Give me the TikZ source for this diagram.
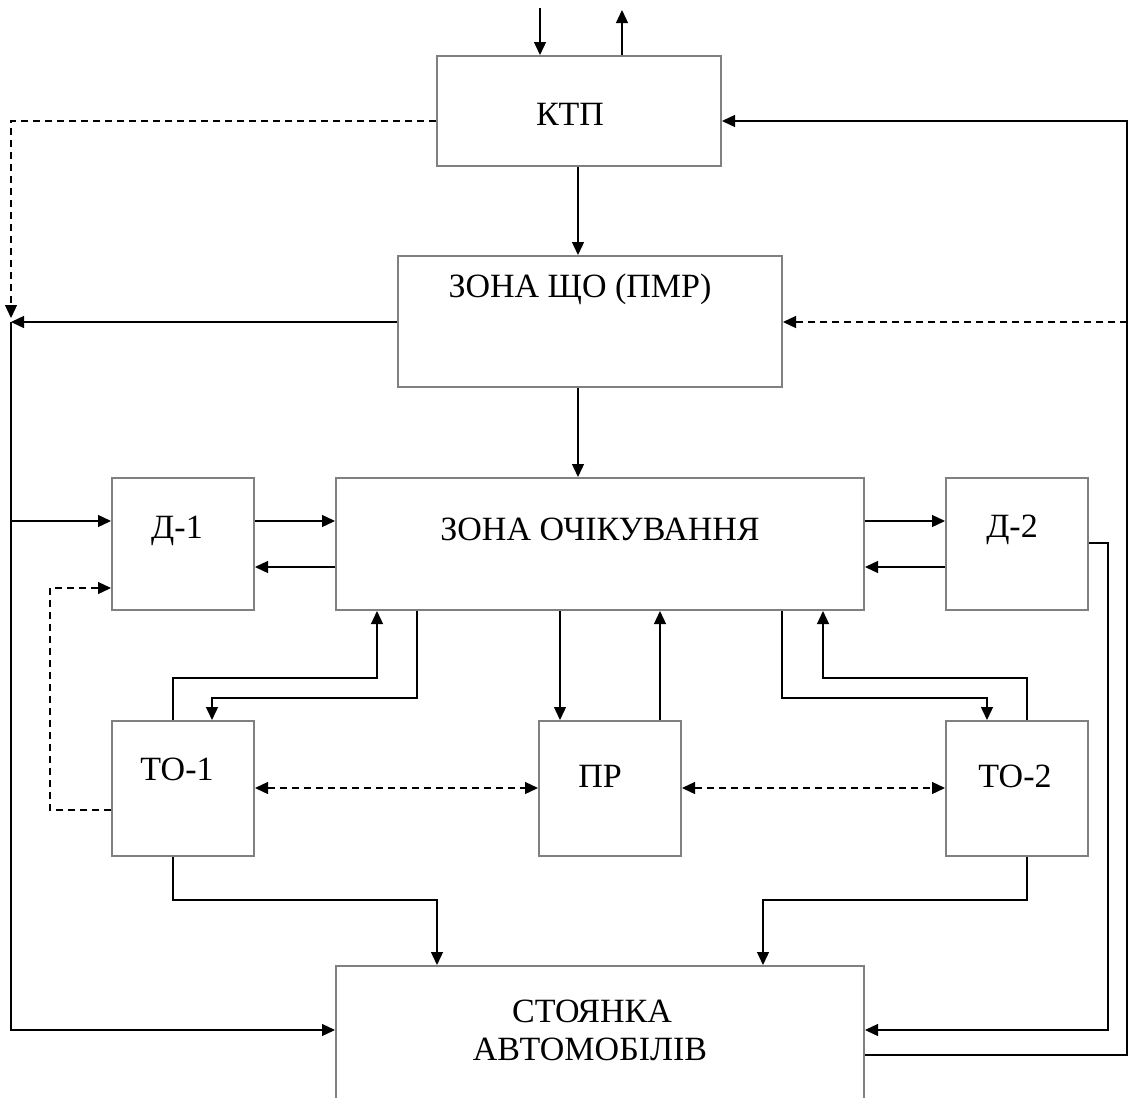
\documentclass[tikz,border=0pt]{standalone}
\usepackage{fontspec}
\setmainfont{Liberation Serif}
\usetikzlibrary{arrows.meta}
\definecolor{boxgray}{RGB}{128,128,128}
\tikzset{
  box/.style={draw=boxgray, line width=2pt, inner sep=0pt, anchor=north west},
  lbl/.style={font=\fontsize{34}{40}\selectfont, anchor=base, inner sep=0pt},
  con/.style={line width=1.3pt, black},
  arr/.style={con, -{Triangle[length=13pt,width=12pt]}},
  darr/.style={con, {Triangle[length=13pt,width=12pt]}-{Triangle[length=13pt,width=12pt]}},
  dsh/.style={dash pattern=on 7pt off 5pt},
}
\begin{document}
\begin{tikzpicture}[x=1pt,y=-1pt]
\useasboundingbox (0,0) rectangle (1128,1098);
% boxes
\node[box, minimum width=284pt, minimum height=110pt] (ktp) at (436,55) {};
\node[box, minimum width=384pt, minimum height=131pt] (shcho) at (397,255) {};
\node[box, minimum width=142pt, minimum height=132pt] (d1) at (111,477) {};
\node[box, minimum width=528pt, minimum height=132pt] (och) at (335,477) {};
\node[box, minimum width=142pt, minimum height=132pt] (d2) at (945,477) {};
\node[box, minimum width=142pt, minimum height=135pt] (to1) at (111,720) {};
\node[box, minimum width=142pt, minimum height=135pt] (pr) at (538,720) {};
\node[box, minimum width=142pt, minimum height=135pt] (to2) at (945,720) {};
\node[box, minimum width=528pt, minimum height=140pt] (st) at (335,965) {};
% labels
\node[lbl] (ktpT) at (570,125) {КТП};
\node[lbl] (shchoT) at (580,297) {ЗОНА ЩО (ПМР)};
\node[lbl] (ochT) at (600,540) {ЗОНА ОЧІКУВАННЯ};
\node[lbl] (d1T) at (177,538) {Д-1};
\node[lbl] (d2T) at (1012,537) {Д-2};
\node[lbl] (to1T) at (177,780) {ТО-1};
\node[lbl] (prT) at (600,787) {ПР};
\node[lbl] (to2T) at (1015,787) {ТО-2};
\node[lbl] (stT1) at (592,1022) {СТОЯНКА};
\node[lbl] (stT2) at (590,1060) {АВТОМОБІЛІВ};
% free ends
\coordinate (in1) at (540,8);
\coordinate (out1) at (622,10);
\coordinate (rail) at (11,0);
\coordinate (rr) at (1127,0);
% top
\draw[arr] (in1) -- (in1 |- ktp.north);
\draw[arr] (out1 |- ktp.north) -- (out1);
\draw[arr, dsh] (ktp.west |- 0,121) -- (rail |- 0,121) -- (rail |- 0,318);
\draw[arr] (st.east |- 0,1055) -- (rr |- 0,1055) -- (rr |- 0,121) -- (ktp.east |- 0,121);
\draw[arr, dsh] (rr |- 0,322) -- (shcho.east |- 0,322);
\draw[arr] (578,0 |- ktp.south) -- (578,0 |- shcho.north);
% left rail
\draw[arr] (shcho.west |- 0,322) -- (rail |- 0,322);
\draw[arr] (rail |- 0,322) -- (rail |- 0,1030) -- (st.west |- 0,1030);
\draw[arr] (rail |- 0,521) -- (d1.west |- 0,521);
\draw[arr] (578,0 |- shcho.south) -- (578,0 |- och.north);
% D boxes
\draw[arr] (d1.east |- 0,521) -- (och.west |- 0,521);
\draw[arr] (och.west |- 0,567) -- (d1.east |- 0,567);
\draw[arr] (och.east |- 0,521) -- (d2.west |- 0,521);
\draw[arr] (d2.west |- 0,567) -- (och.east |- 0,567);
\draw[arr] (d2.east |- 0,543) -- (1108,543) -- (1108,1030) -- (st.east |- 0,1030);
\draw[arr, dsh] (to1.west |- 0,810) -- (50,810) -- (50,588) -- (d1.west |- 0,588);
% waiting zone to TO / PR
\draw[arr] (173,0 |- to1.north) -- (173,678) -- (377,678) -- (377,0 |- och.south);
\draw[arr] (417,0 |- och.south) -- (417,698) -- (212,698) -- (212,0 |- to1.north);
\draw[arr] (560,0 |- och.south) -- (560,0 |- pr.north);
\draw[arr] (660,0 |- pr.north) -- (660,0 |- och.south);
\draw[arr] (782,0 |- och.south) -- (782,698) -- (987,698) -- (987,0 |- to2.north);
\draw[arr] (1027,0 |- to2.north) -- (1027,678) -- (823,678) -- (823,0 |- och.south);
\draw[darr, dsh] (to1.east |- 0,788) -- (pr.west |- 0,788);
\draw[darr, dsh] (pr.east |- 0,788) -- (to2.west |- 0,788);
% to parking
\draw[arr] (173,0 |- to1.south) -- (173,900) -- (437,900) -- (437,0 |- st.north);
\draw[arr] (1027,0 |- to2.south) -- (1027,900) -- (763,900) -- (763,0 |- st.north);
\end{tikzpicture}
\end{document}
